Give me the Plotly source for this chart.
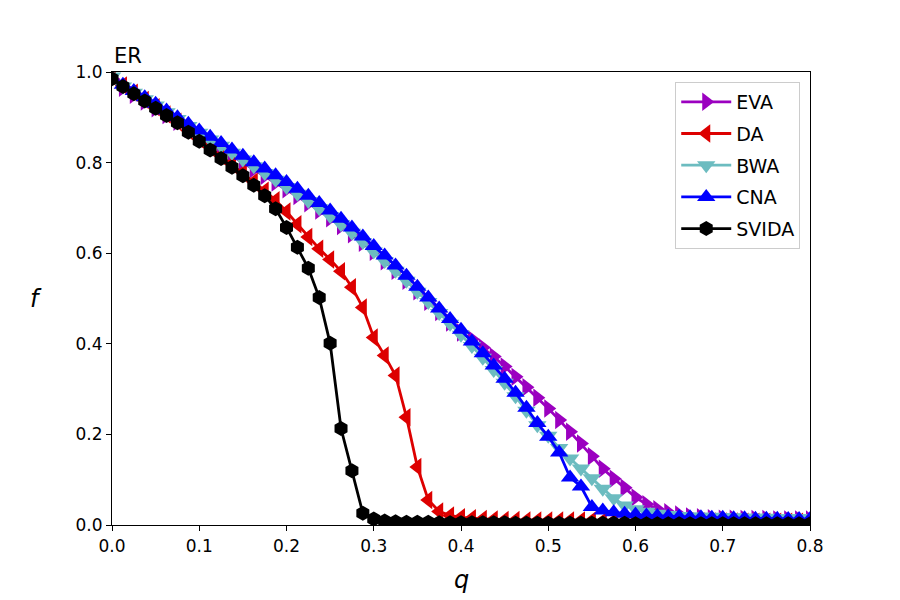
import plotly.graph_objects as go

# q values (fraction removed), step 0.0125
q = [0.0, 0.0125, 0.025, 0.0375, 0.05, 0.0625, 0.075, 0.0875, 0.1, 0.1125,
     0.125, 0.1375, 0.15, 0.1625, 0.175, 0.1875, 0.2, 0.2125, 0.225, 0.2375,
     0.25, 0.2625, 0.275, 0.2875, 0.3, 0.3125, 0.325, 0.3375, 0.35, 0.3625,
     0.375, 0.3875, 0.4, 0.4125, 0.425, 0.4375, 0.45, 0.4625, 0.475, 0.4875,
     0.5, 0.5125, 0.525, 0.5375, 0.55, 0.5625, 0.575, 0.5875, 0.6, 0.6125,
     0.625, 0.6375, 0.65, 0.6625, 0.675, 0.6875, 0.7, 0.7125, 0.725, 0.7375,
     0.75, 0.7625, 0.775, 0.7875, 0.8]

f_eva = [0.985, 0.965, 0.95, 0.935, 0.92, 0.905, 0.89, 0.875, 0.86, 0.845,
         0.831, 0.816, 0.801, 0.786, 0.771, 0.756, 0.741, 0.726, 0.71, 0.694,
         0.677, 0.66, 0.642, 0.623, 0.603, 0.582, 0.561, 0.539, 0.516, 0.493,
         0.47, 0.447, 0.425, 0.41, 0.392, 0.372, 0.35, 0.327, 0.304, 0.281,
         0.257, 0.232, 0.206, 0.18, 0.152, 0.124, 0.102, 0.082, 0.061, 0.046,
         0.035, 0.028, 0.023, 0.019, 0.017, 0.015, 0.014, 0.014, 0.013, 0.013,
         0.013, 0.012, 0.012, 0.012, 0.012]

f_da = [0.99, 0.97, 0.954, 0.938, 0.922, 0.906, 0.89, 0.871, 0.852, 0.834,
        0.815, 0.797, 0.778, 0.758, 0.738, 0.717, 0.692, 0.664, 0.636, 0.61,
        0.586, 0.56, 0.525, 0.48, 0.414, 0.374, 0.33, 0.238, 0.128, 0.055,
        0.03, 0.021, 0.017, 0.015, 0.013, 0.012, 0.011, 0.011, 0.01, 0.01,
        0.01, 0.01, 0.01, 0.01, 0.01, 0.009, 0.009, 0.009, 0.009, 0.009,
        0.009, 0.008, 0.008, 0.008, 0.008, 0.008, 0.008, 0.008, 0.007, 0.007,
        0.007, 0.007, 0.007, 0.007, 0.007]

f_bwa = [0.99, 0.968, 0.954, 0.94, 0.926, 0.911, 0.896, 0.881, 0.866, 0.851,
         0.837, 0.822, 0.807, 0.792, 0.777, 0.762, 0.746, 0.731, 0.715, 0.699,
         0.682, 0.664, 0.645, 0.625, 0.604, 0.583, 0.561, 0.539, 0.515, 0.492,
         0.468, 0.444, 0.42, 0.395, 0.369, 0.342, 0.314, 0.284, 0.252, 0.22,
         0.197, 0.17, 0.147, 0.125, 0.103, 0.08, 0.059, 0.043, 0.035, 0.029,
         0.025, 0.022, 0.02, 0.019, 0.018, 0.018, 0.017, 0.017, 0.016, 0.016,
         0.016, 0.015, 0.015, 0.015, 0.015]

f_cna = [0.985, 0.972, 0.958, 0.944, 0.93, 0.915, 0.9, 0.886, 0.871, 0.857,
         0.843, 0.829, 0.815, 0.801, 0.787, 0.772, 0.757, 0.742, 0.727, 0.711,
         0.694, 0.676, 0.657, 0.637, 0.616, 0.595, 0.573, 0.55, 0.526, 0.502,
         0.478, 0.455, 0.431, 0.405, 0.379, 0.352, 0.323, 0.292, 0.259, 0.225,
         0.195, 0.16, 0.105, 0.085, 0.04, 0.032, 0.028, 0.025, 0.023, 0.021,
         0.02, 0.019, 0.018, 0.017, 0.017, 0.016, 0.016, 0.015, 0.015, 0.014,
         0.014, 0.014, 0.013, 0.013, 0.013]

f_svida = [0.985, 0.968, 0.952, 0.936, 0.92, 0.904, 0.888, 0.867, 0.847, 0.828,
           0.809, 0.79, 0.771, 0.75, 0.727, 0.698, 0.657, 0.613, 0.567, 0.502,
           0.401, 0.213, 0.12, 0.026, 0.013, 0.009, 0.007, 0.006, 0.006, 0.006,
           0.005, 0.005, 0.005, 0.005, 0.005, 0.005, 0.005, 0.004, 0.004, 0.004,
           0.004, 0.004, 0.004, 0.004, 0.004, 0.004, 0.004, 0.004, 0.003, 0.003,
           0.003, 0.003, 0.003, 0.003, 0.003, 0.003, 0.003, 0.003, 0.003, 0.003,
           0.003, 0.003, 0.003, 0.003, 0.003]

series = [
    ("EVA", f_eva, "#9b00c0", "triangle-right", 16),
    ("DA", f_da, "#dd0000", "triangle-left", 16),
    ("BWA", f_bwa, "#6cbcc0", "triangle-down", 16),
    ("CNA", f_cna, "#0000ff", "triangle-up", 16),
    ("SVIDA", f_svida, "#000000", "hexagon", 15),
]

fig = go.Figure()
for name, vals, col, sym, sz in series:
    fig.add_trace(go.Scatter(
        x=q, y=vals, mode="lines+markers", name=name, legendgroup=name,
        line=dict(color=col, width=2.8),
        marker=dict(color=col, symbol=sym, size=sz),
    ))

axis_style = dict(
    showgrid=False, zeroline=False, showline=True, linecolor="black",
    linewidth=1.2, mirror=True, ticks="outside", ticklen=5,
    tickcolor="black", tickfont=dict(size=17, color="black"),
)

fig.update_xaxes(range=[0, 0.8], dtick=0.1, tickformat=".1f", **axis_style)
fig.update_yaxes(range=[0, 1.0], dtick=0.2, tickformat=".1f", **axis_style)

# page body has an 8px margin, so shift the plot area up/left by 8px
fig.update_layout(
    width=900, height=600,
    plot_bgcolor="white", paper_bgcolor="white",
    margin=dict(l=104, r=98, t=64, b=83),
    font=dict(family="DejaVu Sans", color="black"),
    legend=dict(
        x=0.986, y=0.978, xanchor="right", yanchor="top",
        bgcolor="white", bordercolor="#cccccc", borderwidth=1,
        font=dict(size=19), itemwidth=50,
        traceorder="grouped", tracegroupgap=4,
    ),
    annotations=[
        dict(text="ER", xref="paper", yref="paper", x=0, y=1,
             xanchor="left", yanchor="bottom", yshift=2,
             showarrow=False, font=dict(size=21)),
        dict(text="<i>f</i>", xref="paper", yref="paper", x=0, y=0.5,
             xanchor="center", yanchor="middle", xshift=-76,
             showarrow=False, font=dict(size=24)),
        dict(text="<i>q</i>", xref="paper", yref="paper", x=0.5, y=0,
             xanchor="center", yanchor="middle", yshift=-55,
             showarrow=False, font=dict(size=24)),
    ],
)

fig.write_html("out.html")
